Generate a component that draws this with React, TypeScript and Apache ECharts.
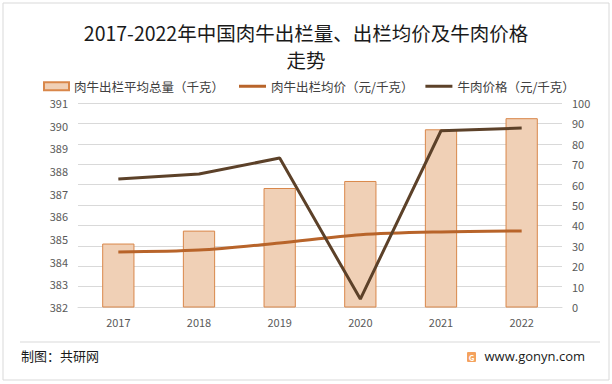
import React, { useEffect, useRef } from "react";
import * as echarts from "echarts";

const categories = ["2017", "2018", "2019", "2020", "2021", "2022"];
const avgWeight = [384.8, 385.37, 387.25, 387.56, 389.84, 390.33];
const avgPrice = [27.0, 27.9, 31.4, 35.4, 36.8, 37.3];
const beefPrice = [62.7, 65.2, 73.0, 3.9, 86.4, 87.7];

const seriesNames = ["肉牛出栏平均总量（千克）", "肉牛出栏均价（元/千克）", "牛肉价格（元/千克）"];
const titleText = "2017-2022年中国肉牛出栏量、出栏均价及牛肉价格\n走势";
const sourceText = "制图：共研网";
const siteText = "www.gonyn.com";

const FONT = "'Noto Sans CJK SC', 'Noto Sans', sans-serif";

export default function App() {
  const ref = useRef<HTMLDivElement>(null);
  useEffect(() => {
    if (!ref.current) return;
    const chart = echarts.init(ref.current, undefined, { renderer: "svg" });
    const legendText = { fontSize: 12.5, color: "#404040", fontFamily: FONT };
    chart.setOption({
      animation: false,
      backgroundColor: "#ffffff",
      textStyle: { fontFamily: FONT },
      title: {
        text: titleText,
        left: "center",
        top: 14,
        textStyle: { fontSize: 19.5, fontWeight: "normal", color: "#1a1a1a", lineHeight: 27, fontFamily: FONT },
      },
      legend: [
        {
          top: 75,
          left: 38,
          itemWidth: 25,
          itemHeight: 8,
          icon: "rect",
          textStyle: legendText,
          data: [seriesNames[0]],
        },
        {
          top: 75,
          left: 234,
          itemGap: 12,
          itemWidth: 27,
          itemHeight: 3,
          icon: "rect",
          textStyle: legendText,
          data: [seriesNames[1], seriesNames[2]],
        },
      ],
      grid: { left: 78, right: 50, top: 103, bottom: 77, containLabel: false },
      xAxis: {
        type: "category",
        data: categories,
        axisTick: { show: false },
        axisLine: { lineStyle: { color: "#d9d9d9" } },
        axisLabel: { color: "#595959", fontSize: 11, margin: 9, fontFamily: FONT },
      },
      yAxis: [
        {
          type: "value",
          min: 382,
          max: 391,
          interval: 1,
          splitLine: { show: false },
          axisLine: { show: false },
          axisTick: { show: false },
          axisLabel: { color: "#595959", fontSize: 11, margin: 10, fontFamily: FONT },
        },
        {
          type: "value",
          min: 0,
          max: 100,
          interval: 10,
          position: "right",
          splitLine: { show: true, lineStyle: { color: "#d9d9d9", width: 1 } },
          axisLine: { show: false },
          axisTick: { show: false },
          axisLabel: { color: "#595959", fontSize: 11, margin: 10, fontFamily: FONT },
        },
      ],
      series: [
        {
          name: seriesNames[0],
          type: "bar",
          yAxisIndex: 0,
          data: avgWeight,
          barWidth: "40%",
          itemStyle: { color: "#f0d0b6", borderColor: "#d9874a", borderWidth: 1 },
        },
        {
          name: seriesNames[1],
          type: "line",
          yAxisIndex: 1,
          data: avgPrice,
          smooth: 0.3,
          symbol: "none",
          lineStyle: { color: "#b8642a", width: 3 },
          itemStyle: { color: "#b8642a" },
        },
        {
          name: seriesNames[2],
          type: "line",
          yAxisIndex: 1,
          data: beefPrice,
          symbol: "none",
          lineStyle: { color: "#5c4129", width: 3 },
          itemStyle: { color: "#5c4129" },
        },
      ],
      graphic: [
        {
          type: "rect",
          shape: { x: 3, y: 3, width: 606, height: 377 },
          style: { fill: "none", stroke: "#d9d9d9", lineWidth: 1 },
          silent: true,
        },
        {
          type: "line",
          shape: { x1: 20, y1: 342, x2: 600, y2: 342 },
          style: { stroke: "#d9d9d9", lineWidth: 1 },
          silent: true,
        },
        {
          type: "text",
          left: 21,
          top: 349,
          style: { text: sourceText, fontSize: 13, fill: "#1a1a1a", fontFamily: FONT },
        },
        {
          type: "rect",
          shape: { x: 467, y: 352, width: 9, height: 10, r: 1 },
          style: { fill: "#f4a25e" },
        },
        {
          type: "text",
          x: 471.5,
          y: 357,
          style: { text: "G", fontSize: 8, fill: "#ffffff", align: "center", verticalAlign: "middle", fontWeight: "bold", fontFamily: FONT },
        },
        {
          type: "text",
          right: 27,
          top: 349,
          style: { text: siteText, fontSize: 13, fill: "#1a1a1a", fontFamily: "'Open Sans', 'Noto Sans', sans-serif" },
        },
      ],
    });
    return () => chart.dispose();
  }, []);
  return <div ref={ref} style={{ position: "fixed", left: 0, top: 0, width: 612, height: 384 }} />;
}
